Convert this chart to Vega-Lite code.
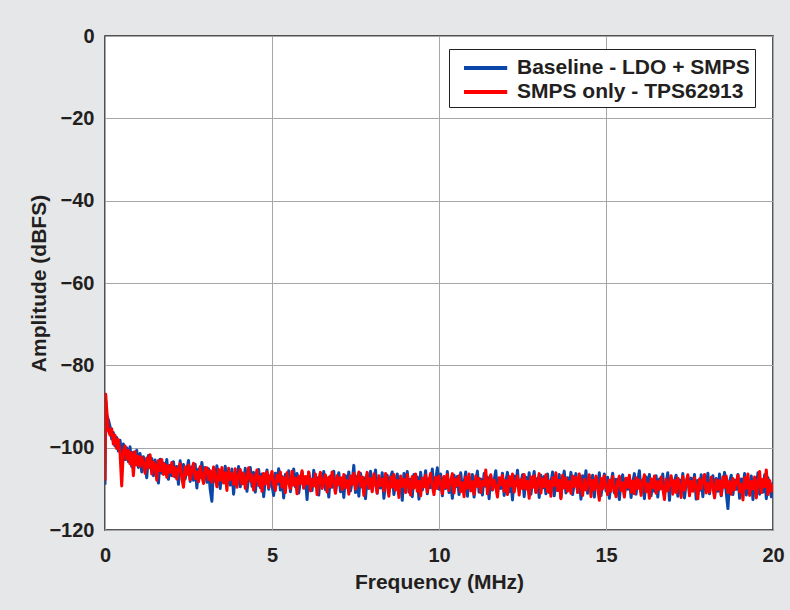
{
"$schema": "https://vega.github.io/schema/vega-lite/v6.json",
"width": 668, "height": 494,
"autosize": {"type": "none"},
"padding": {"left": 105, "top": 36, "right": 17, "bottom": 80},
"background": "#e6e7e8",
"config": {
  "view": {"fill": "white", "stroke": "#231f20", "strokeWidth": 1.5},
  "font": "Liberation Sans",
  "axis": {"labelFont": "Liberation Sans", "labelFontWeight": "bold", "labelFontSize": 20, "labelColor": "#231f20",
           "titleFont": "Liberation Sans", "titleFontWeight": "bold", "titleFontSize": 21, "titleColor": "#231f20",
           "gridColor": "#a6a6a6", "gridWidth": 1, "gridOpacity": 1, "domain": false, "ticks": false, "labelFlush": false},
  "legend": {"labelFont": "Liberation Sans", "labelFontWeight": "bold", "labelFontSize": 21, "labelColor": "#231f20", "labelLimit": 500}
},
"data": {"values": [
{"f":0,"b":-109,"r":-108},{"f":0.02,"b":-88.5,"r":-87},{"f":0.05,"b":-92.1,"r":-90.6},{"f":0.1,"b":-93.2,"r":-95.8},{"f":0.15,"b":-94.8,"r":-96.9},{"f":0.2,"b":-97.9,"r":-95.4},{"f":0.25,"b":-96.3,"r":-99.1},{"f":0.3,"b":-99.6,"r":-97.0},{"f":0.35,"b":-97.5,"r":-100.2},{"f":0.4,"b":-100.8,"r":-98.1},{"f":0.45,"b":-98.2,"r":-101.3},{"f":0.5,"b":-101.7,"r":-109.3},{"f":0.55,"b":-99.1,"r":-100.9},{"f":0.6,"b":-102.9,"r":-99.6},{"f":0.65,"b":-100.0,"r":-102.8},{"f":0.7,"b":-103.4,"r":-100.7},{"f":0.75,"b":-99.8,"r":-103.9},{"f":0.8,"b":-104.6,"r":-101.2},{"f":0.85,"b":-101.1,"r":-106.8},{"f":0.9,"b":-103.9,"r":-101.0},{"f":0.95,"b":-100.6,"r":-104.2},{"f":1.0,"b":-104.8,"r":-102.1},
{"f":1.05,"b":-101.4,"r":-104.6},{"f":1.1,"b":-105.9,"r":-102.3},{"f":1.15,"b":-102.2,"r":-103.9},{"f":1.2,"b":-104.1,"r":-106.2},{"f":1.25,"b":-107.3,"r":-102.5},{"f":1.3,"b":-101.9,"r":-104.8},{"f":1.35,"b":-104.9,"r":-101.7},{"f":1.4,"b":-102.6,"r":-106.4},{"f":1.45,"b":-106.8,"r":-103.5},{"f":1.5,"b":-103.0,"r":-104.2},{"f":1.55,"b":-105.5,"r":-107.9},{"f":1.6,"b":-108.6,"r":-103.1},{"f":1.65,"b":-102.8,"r":-105.6},{"f":1.7,"b":-106.2,"r":-102.9},{"f":1.75,"b":-103.7,"r":-106.5},{"f":1.8,"b":-105.9,"r":-104.0},{"f":1.85,"b":-102.9,"r":-107.2},{"f":1.9,"b":-107.7,"r":-104.4},{"f":1.95,"b":-104.3,"r":-106.0},{"f":2.0,"b":-106.8,"r":-103.6},
{"f":2.05,"b":-103.4,"r":-106.9},{"f":2.1,"b":-107.1,"r":-104.8},{"f":2.15,"b":-104.6,"r":-107.6},{"f":2.2,"b":-108.9,"r":-105.1},{"f":2.25,"b":-103.2,"r":-103.9},{"f":2.3,"b":-106.5,"r":-107.4},{"f":2.35,"b":-104.1,"r":-109.6},{"f":2.4,"b":-107.6,"r":-104.7},{"f":2.45,"b":-105.3,"r":-106.5},{"f":2.5,"b":-103.1,"r":-104.2},{"f":2.55,"b":-108.2,"r":-107.8},{"f":2.6,"b":-104.7,"r":-105.3},{"f":2.65,"b":-107.9,"r":-103.8},{"f":2.7,"b":-104.0,"r":-107.5},{"f":2.75,"b":-109.8,"r":-105.9},{"f":2.8,"b":-105.2,"r":-108.3},{"f":2.85,"b":-107.3,"r":-104.6},{"f":2.9,"b":-103.6,"r":-106.9},{"f":2.95,"b":-106.9,"r":-108.7},{"f":3.0,"b":-104.8,"r":-105.0},
{"f":3.05,"b":-108.4,"r":-104.9},{"f":3.1,"b":-105.1,"r":-107.8},{"f":3.15,"b":-110.2,"r":-105.6},{"f":3.2,"b":-113.0,"r":-108.4},{"f":3.25,"b":-105.0,"r":-104.7},{"f":3.3,"b":-108.1,"r":-107.2},{"f":3.35,"b":-104.4,"r":-109.5},{"f":3.4,"b":-107.6,"r":-105.3},{"f":3.45,"b":-109.9,"r":-107.9},{"f":3.5,"b":-105.8,"r":-104.8},{"f":3.55,"b":-107.9,"r":-108.6},{"f":3.6,"b":-104.5,"r":-106.1},{"f":3.65,"b":-108.8,"r":-110.4},{"f":3.7,"b":-106.3,"r":-105.0},{"f":3.75,"b":-109.1,"r":-107.7},{"f":3.8,"b":-105.2,"r":-106.3},{"f":3.85,"b":-111.3,"r":-108.9},{"f":3.9,"b":-106.6,"r":-105.1},{"f":3.95,"b":-108.2,"r":-109.6},{"f":4.0,"b":-104.6,"r":-107.0},
{"f":4.05,"b":-109.5,"r":-105.3},{"f":4.1,"b":-106.1,"r":-108.8},{"f":4.15,"b":-108.7,"r":-106.2},{"f":4.2,"b":-105.0,"r":-109.9},{"f":4.25,"b":-110.6,"r":-107.4},{"f":4.3,"b":-107.2,"r":-104.9},{"f":4.35,"b":-104.8,"r":-108.1},{"f":4.4,"b":-109.4,"r":-106.6},{"f":4.45,"b":-106.0,"r":-110.3},{"f":4.5,"b":-110.8,"r":-107.5},{"f":4.55,"b":-107.1,"r":-105.4},{"f":4.6,"b":-105.3,"r":-109.2},{"f":4.65,"b":-109.7,"r":-107.0},{"f":4.7,"b":-106.4,"r":-110.6},{"f":4.75,"b":-111.9,"r":-106.3},{"f":4.8,"b":-107.7,"r":-108.8},{"f":4.85,"b":-105.4,"r":-105.9},{"f":4.9,"b":-110.1,"r":-109.7},{"f":4.95,"b":-106.9,"r":-107.1},{"f":5.0,"b":-109.2,"r":-105.8},
{"f":5.05,"b":-111.6,"r":-108.9},{"f":5.1,"b":-106.2,"r":-110.4},{"f":5.15,"b":-108.9,"r":-106.7},{"f":5.2,"b":-105.1,"r":-108.2},{"f":5.25,"b":-110.3,"r":-105.9},{"f":5.3,"b":-107.0,"r":-109.6},{"f":5.35,"b":-112.2,"r":-107.3},{"f":5.4,"b":-106.5,"r":-110.9},{"f":5.45,"b":-108.4,"r":-106.1},{"f":5.5,"b":-105.6,"r":-108.5},{"f":5.55,"b":-110.7,"r":-110.0},{"f":5.6,"b":-107.8,"r":-105.7},{"f":5.65,"b":-105.2,"r":-109.1},{"f":5.7,"b":-109.5,"r":-107.4},{"f":5.75,"b":-106.3,"r":-111.2},{"f":5.8,"b":-111.0,"r":-106.9},{"f":5.85,"b":-108.1,"r":-108.7},{"f":5.9,"b":-105.9,"r":-105.6},{"f":5.95,"b":-109.8,"r":-109.8},{"f":6.0,"b":-107.2,"r":-107.0},
{"f":6.05,"b":-112.6,"r":-108.8},{"f":6.1,"b":-106.0,"r":-105.9},{"f":6.15,"b":-108.7,"r":-110.5},{"f":6.2,"b":-110.4,"r":-107.7},{"f":6.25,"b":-105.5,"r":-109.3},{"f":6.3,"b":-109.2,"r":-106.4},{"f":6.35,"b":-107.3,"r":-111.4},{"f":6.4,"b":-111.5,"r":-107.9},{"f":6.45,"b":-106.4,"r":-106.0},{"f":6.5,"b":-108.9,"r":-109.9},{"f":6.55,"b":-105.8,"r":-108.1},{"f":6.6,"b":-110.2,"r":-106.6},{"f":6.65,"b":-107.6,"r":-110.8},{"f":6.7,"b":-112.0,"r":-107.2},{"f":6.75,"b":-106.9,"r":-109.5},{"f":6.8,"b":-109.6,"r":-105.9},{"f":6.85,"b":-105.7,"r":-108.3},{"f":6.9,"b":-110.9,"r":-111.1},{"f":6.95,"b":-107.9,"r":-106.8},{"f":7.0,"b":-106.1,"r":-109.0},
{"f":7.05,"b":-110.7,"r":-107.3},{"f":7.1,"b":-107.4,"r":-110.2},{"f":7.15,"b":-112.1,"r":-106.5},{"f":7.2,"b":-106.8,"r":-109.7},{"f":7.25,"b":-109.3,"r":-108.0},{"f":7.3,"b":-105.9,"r":-111.3},{"f":7.35,"b":-110.5,"r":-106.9},{"f":7.4,"b":-108.2,"r":-108.9},{"f":7.45,"b":-104.3,"r":-106.2},{"f":7.5,"b":-110.9,"r":-110.1},{"f":7.55,"b":-107.0,"r":-107.8},{"f":7.6,"b":-111.8,"r":-105.9},{"f":7.65,"b":-106.2,"r":-109.4},{"f":7.7,"b":-109.6,"r":-107.1},{"f":7.75,"b":-107.3,"r":-111.6},{"f":7.8,"b":-112.4,"r":-108.3},{"f":7.85,"b":-106.6,"r":-106.0},{"f":7.9,"b":-109.9,"r":-109.8},{"f":7.95,"b":-105.7,"r":-107.5},{"f":8.0,"b":-110.4,"r":-110.7},
{"f":8.05,"b":-108.0,"r":-106.4},{"f":8.1,"b":-105.4,"r":-108.6},{"f":8.15,"b":-111.1,"r":-111.0},{"f":8.2,"b":-107.5,"r":-106.8},{"f":8.25,"b":-109.8,"r":-109.2},{"f":8.3,"b":-106.1,"r":-107.6},{"f":8.35,"b":-112.3,"r":-110.5},{"f":8.4,"b":-108.3,"r":-106.3},{"f":8.45,"b":-106.7,"r":-108.9},{"f":8.5,"b":-110.6,"r":-111.8},{"f":8.55,"b":-107.2,"r":-107.1},{"f":8.6,"b":-105.9,"r":-109.6},{"f":8.65,"b":-111.4,"r":-106.5},{"f":8.7,"b":-108.6,"r":-110.3},{"f":8.75,"b":-106.4,"r":-108.0},{"f":8.8,"b":-110.0,"r":-112.1},{"f":8.85,"b":-107.8,"r":-106.9},{"f":8.9,"b":-112.8,"r":-109.4},{"f":8.95,"b":-106.3,"r":-107.7},{"f":9.0,"b":-109.1,"r":-110.9},
{"f":9.05,"b":-105.8,"r":-106.6},{"f":9.1,"b":-110.8,"r":-108.8},{"f":9.15,"b":-107.7,"r":-111.5},{"f":9.2,"b":-111.9,"r":-107.0},{"f":9.25,"b":-106.5,"r":-109.8},{"f":9.3,"b":-109.4,"r":-106.4},{"f":9.35,"b":-107.1,"r":-110.6},{"f":9.4,"b":-112.5,"r":-108.2},{"f":9.45,"b":-106.0,"r":-111.7},{"f":9.5,"b":-110.3,"r":-107.4},{"f":9.55,"b":-108.4,"r":-109.5},{"f":9.6,"b":-105.6,"r":-106.7},{"f":9.65,"b":-111.2,"r":-110.8},{"f":9.7,"b":-107.6,"r":-108.1},{"f":9.75,"b":-109.7,"r":-106.2},{"f":9.8,"b":-105.2,"r":-109.3},{"f":9.85,"b":-110.6,"r":-111.4},{"f":9.9,"b":-107.9,"r":-107.2},{"f":9.95,"b":-104.9,"r":-109.9},{"f":10.0,"b":-110.1,"r":-106.9},
{"f":10.05,"b":-106.4,"r":-108.6},{"f":10.1,"b":-111.7,"r":-111.2},{"f":10.15,"b":-107.3,"r":-107.0},{"f":10.2,"b":-109.9,"r":-109.7},{"f":10.25,"b":-105.8,"r":-106.5},{"f":10.3,"b":-110.9,"r":-110.4},{"f":10.35,"b":-108.2,"r":-108.1},{"f":10.4,"b":-112.3,"r":-106.3},{"f":10.45,"b":-106.7,"r":-111.0},{"f":10.5,"b":-109.5,"r":-107.6},{"f":10.55,"b":-107.0,"r":-109.2},{"f":10.6,"b":-111.4,"r":-106.8},{"f":10.65,"b":-106.1,"r":-110.7},{"f":10.7,"b":-110.2,"r":-108.5},{"f":10.75,"b":-108.5,"r":-111.9},{"f":10.8,"b":-105.9,"r":-107.1},{"f":10.85,"b":-111.8,"r":-109.8},{"f":10.9,"b":-107.4,"r":-106.4},{"f":10.95,"b":-109.7,"r":-110.5},{"f":11.0,"b":-106.5,"r":-108.3},
{"f":11.05,"b":-112.0,"r":-111.3},{"f":11.1,"b":-108.1,"r":-106.9},{"f":11.15,"b":-105.7,"r":-109.4},{"f":11.2,"b":-110.8,"r":-107.5},{"f":11.25,"b":-107.6,"r":-110.9},{"f":11.3,"b":-111.5,"r":-108.2},{"f":11.35,"b":-106.3,"r":-109.1},{"f":11.4,"b":-109.4,"r":-105.4},{"f":11.45,"b":-107.1,"r":-111.2},{"f":11.5,"b":-112.4,"r":-108.4},{"f":11.55,"b":-106.8,"r":-106.6},{"f":11.6,"b":-110.3,"r":-110.2},{"f":11.65,"b":-108.0,"r":-107.9},{"f":11.7,"b":-105.6,"r":-109.6},{"f":11.75,"b":-111.1,"r":-112.0},{"f":11.8,"b":-107.7,"r":-107.3},{"f":11.85,"b":-109.9,"r":-109.0},{"f":11.9,"b":-106.2,"r":-106.7},{"f":11.95,"b":-111.6,"r":-110.6},{"f":12.0,"b":-108.3,"r":-108.0},
{"f":12.05,"b":-106.0,"r":-111.4},{"f":12.1,"b":-110.7,"r":-107.0},{"f":12.15,"b":-107.4,"r":-109.3},{"f":12.2,"b":-112.7,"r":-106.4},{"f":12.25,"b":-106.9,"r":-110.8},{"f":12.3,"b":-109.2,"r":-108.6},{"f":12.35,"b":-105.5,"r":-106.9},{"f":12.4,"b":-110.5,"r":-111.5},{"f":12.45,"b":-108.7,"r":-107.8},{"f":12.5,"b":-106.6,"r":-109.9},{"f":12.55,"b":-111.9,"r":-106.5},{"f":12.6,"b":-107.2,"r":-110.1},{"f":12.65,"b":-110.0,"r":-108.2},{"f":12.7,"b":-106.1,"r":-112.3},{"f":12.75,"b":-111.3,"r":-107.1},{"f":12.8,"b":-108.4,"r":-109.7},{"f":12.85,"b":-105.8,"r":-106.8},{"f":12.9,"b":-110.6,"r":-110.9},{"f":12.95,"b":-107.5,"r":-108.5},{"f":13.0,"b":-112.1,"r":-106.3},
{"f":13.05,"b":-106.7,"r":-111.0},{"f":13.1,"b":-109.8,"r":-107.6},{"f":13.15,"b":-107.0,"r":-109.5},{"f":13.2,"b":-111.2,"r":-106.6},{"f":13.25,"b":-106.4,"r":-110.7},{"f":13.3,"b":-110.9,"r":-108.1},{"f":13.35,"b":-108.6,"r":-111.8},{"f":13.4,"b":-105.9,"r":-107.3},{"f":13.45,"b":-111.7,"r":-109.2},{"f":13.5,"b":-107.8,"r":-106.1},{"f":13.55,"b":-110.4,"r":-110.4},{"f":13.6,"b":-106.5,"r":-108.0},{"f":13.65,"b":-112.2,"r":-112.4},{"f":13.7,"b":-108.2,"r":-106.7},{"f":13.75,"b":-105.7,"r":-109.8},{"f":13.8,"b":-111.0,"r":-107.4},{"f":13.85,"b":-107.3,"r":-110.6},{"f":13.9,"b":-109.6,"r":-108.3},{"f":13.95,"b":-106.0,"r":-111.1},{"f":14.0,"b":-111.4,"r":-106.9},
{"f":14.05,"b":-108.5,"r":-109.4},{"f":14.1,"b":-106.3,"r":-107.2},{"f":14.15,"b":-110.8,"r":-110.9},{"f":14.2,"b":-107.6,"r":-106.4},{"f":14.25,"b":-112.5,"r":-109.1},{"f":14.3,"b":-106.8,"r":-111.6},{"f":14.35,"b":-109.3,"r":-107.7},{"f":14.4,"b":-105.6,"r":-110.3},{"f":14.45,"b":-111.1,"r":-108.4},{"f":14.5,"b":-108.0,"r":-106.6},{"f":14.55,"b":-110.2,"r":-111.9},{"f":14.6,"b":-106.7,"r":-108.0},{"f":14.65,"b":-112.0,"r":-110.2},{"f":14.7,"b":-107.4,"r":-106.9},{"f":14.75,"b":-109.7,"r":-109.6},{"f":14.8,"b":-106.1,"r":-112.8},{"f":14.85,"b":-111.6,"r":-107.5},{"f":14.9,"b":-108.8,"r":-110.0},{"f":14.95,"b":-106.4,"r":-106.8},{"f":15.0,"b":-110.5,"r":-109.3},
{"f":15.05,"b":-107.2,"r":-111.4},{"f":15.1,"b":-112.3,"r":-107.9},{"f":15.15,"b":-108.6,"r":-110.6},{"f":15.2,"b":-106.2,"r":-107.0},{"f":15.25,"b":-111.0,"r":-109.8},{"f":15.3,"b":-107.7,"r":-111.9},{"f":15.35,"b":-109.9,"r":-108.2},{"f":15.4,"b":-112.6,"r":-106.9},{"f":15.45,"b":-108.3,"r":-110.4},{"f":15.5,"b":-106.6,"r":-108.5},{"f":15.55,"b":-111.5,"r":-112.0},{"f":15.6,"b":-107.5,"r":-107.4},{"f":15.65,"b":-110.1,"r":-109.6},{"f":15.7,"b":-106.9,"r":-106.7},{"f":15.75,"b":-112.1,"r":-110.8},{"f":15.8,"b":-108.5,"r":-108.1},{"f":15.85,"b":-106.3,"r":-111.2},{"f":15.9,"b":-111.3,"r":-107.3},{"f":15.95,"b":-108.0,"r":-109.9},{"f":16.0,"b":-105.6,"r":-107.8},
{"f":16.05,"b":-110.8,"r":-111.6},{"f":16.1,"b":-107.9,"r":-108.4},{"f":16.15,"b":-112.4,"r":-106.6},{"f":16.2,"b":-107.1,"r":-110.7},{"f":16.25,"b":-109.6,"r":-108.8},{"f":16.3,"b":-106.5,"r":-112.3},{"f":16.35,"b":-111.7,"r":-107.6},{"f":16.4,"b":-108.2,"r":-109.7},{"f":16.45,"b":-110.6,"r":-106.9},{"f":16.5,"b":-106.8,"r":-111.1},{"f":16.55,"b":-112.0,"r":-108.3},{"f":16.6,"b":-107.6,"r":-110.2},{"f":16.65,"b":-109.9,"r":-107.1},{"f":16.7,"b":-106.4,"r":-109.9},{"f":16.75,"b":-111.4,"r":-112.6},{"f":16.8,"b":-108.7,"r":-107.7},{"f":16.85,"b":-106.1,"r":-110.5},{"f":16.9,"b":-112.8,"r":-108.6},{"f":16.95,"b":-107.3,"r":-106.8},{"f":17.0,"b":-110.3,"r":-111.3},
{"f":17.05,"b":-108.1,"r":-108.0},{"f":17.1,"b":-106.7,"r":-110.9},{"f":17.15,"b":-111.8,"r":-107.4},{"f":17.2,"b":-107.8,"r":-109.5},{"f":17.25,"b":-110.7,"r":-112.1},{"f":17.3,"b":-106.3,"r":-107.0},{"f":17.35,"b":-112.2,"r":-110.3},{"f":17.4,"b":-108.4,"r":-108.5},{"f":17.45,"b":-106.9,"r":-106.6},{"f":17.5,"b":-111.0,"r":-111.7},{"f":17.55,"b":-107.4,"r":-108.2},{"f":17.6,"b":-109.8,"r":-110.6},{"f":17.65,"b":-106.5,"r":-107.3},{"f":17.7,"b":-112.5,"r":-109.7},{"f":17.75,"b":-108.0,"r":-112.4},{"f":17.8,"b":-110.4,"r":-107.6},{"f":17.85,"b":-106.6,"r":-110.0},{"f":17.9,"b":-111.9,"r":-108.1},{"f":17.95,"b":-107.7,"r":-106.5},{"f":18.0,"b":-109.5,"r":-111.0},
{"f":18.05,"b":-106.2,"r":-108.7},{"f":18.1,"b":-111.2,"r":-110.8},{"f":18.15,"b":-108.3,"r":-107.2},{"f":18.2,"b":-106.8,"r":-109.4},{"f":18.25,"b":-112.1,"r":-112.2},{"f":18.3,"b":-107.5,"r":-107.8},{"f":18.35,"b":-110.6,"r":-110.1},{"f":18.4,"b":-106.4,"r":-108.0},{"f":18.45,"b":-111.7,"r":-111.5},{"f":18.5,"b":-108.6,"r":-107.1},{"f":18.55,"b":-106.0,"r":-109.6},{"f":18.6,"b":-110.9,"r":-106.9},{"f":18.65,"b":-114.8,"r":-110.9},{"f":18.7,"b":-108.2,"r":-108.3},{"f":18.75,"b":-106.7,"r":-111.3},{"f":18.8,"b":-111.4,"r":-107.5},{"f":18.85,"b":-107.9,"r":-110.2},{"f":18.9,"b":-110.1,"r":-108.4},{"f":18.95,"b":-106.5,"r":-106.7},{"f":19.0,"b":-112.3,"r":-110.7},
{"f":19.05,"b":-107.6,"r":-108.9},{"f":19.1,"b":-109.9,"r":-112.7},{"f":19.15,"b":-106.3,"r":-107.3},{"f":19.2,"b":-111.5,"r":-109.8},{"f":19.25,"b":-108.1,"r":-106.4},{"f":19.3,"b":-110.5,"r":-111.6},{"f":19.35,"b":-106.9,"r":-108.2},{"f":19.4,"b":-112.6,"r":-110.0},{"f":19.45,"b":-107.7,"r":-107.1},{"f":19.5,"b":-109.4,"r":-112.2},{"f":19.55,"b":-106.1,"r":-108.6},{"f":19.6,"b":-111.3,"r":-105.8},{"f":19.65,"b":-108.0,"r":-110.9},{"f":19.7,"b":-110.8,"r":-107.7},{"f":19.75,"b":-106.6,"r":-109.5},{"f":19.8,"b":-112.4,"r":-105.4},{"f":19.85,"b":-107.3,"r":-111.4},{"f":19.9,"b":-109.6,"r":-108.0},{"f":19.95,"b":-111.9,"r":-110.6},{"f":20.0,"b":-108.4,"r":-108.8}
]},
"layer": [
  {"mark": {"type": "line", "strokeWidth": 3, "strokeJoin": "round", "clip": true},
   "encoding": {
     "x": {"field": "f", "type": "quantitative", "title": "Frequency (MHz)",
           "scale": {"domain": [0, 20], "nice": false, "zero": false},
           "axis": {"values": [0, 5, 10, 15, 20], "labelPadding": 15, "titleY": 58, "titleBaseline": "alphabetic"}},
     "y": {"field": "b", "type": "quantitative", "title": "Amplitude (dBFS)",
           "scale": {"domain": [-120, 0], "nice": false, "zero": false},
           "axis": {"values": [0, -20, -40, -60, -80, -100, -120], "labelPadding": 11, "titleX": -60, "titleY": 247, "titleAngle": -90, "titleAlign": "center", "titleBaseline": "alphabetic"}},
     "color": {"datum": "Baseline - LDO + SMPS", "type": "nominal",
               "scale": {"domain": ["Baseline - LDO + SMPS", "SMPS only - TPS62913"], "range": ["#0a47a9", "#ff0000"]},
               "legend": {"title": null, "orient": "none", "legendX": 344, "legendY": 13, "direction": "vertical",
                          "fillColor": "white", "strokeColor": "#231f20", "padding": 5,
                          "symbolType": "M-1,0H2.6", "symbolSize": 576, "symbolStrokeWidth": 4, "symbolOffset": 8,
                          "labelOffset": 27, "rowPadding": 0, "labelExpr": "datum.label + '   '"}}
   }},
  {"mark": {"type": "line", "strokeWidth": 3, "strokeJoin": "round", "clip": true},
   "encoding": {
     "x": {"field": "f", "type": "quantitative"},
     "y": {"field": "r", "type": "quantitative", "title": "Amplitude (dBFS)"},
     "color": {"datum": "SMPS only - TPS62913", "type": "nominal"}
   }}
]
}
